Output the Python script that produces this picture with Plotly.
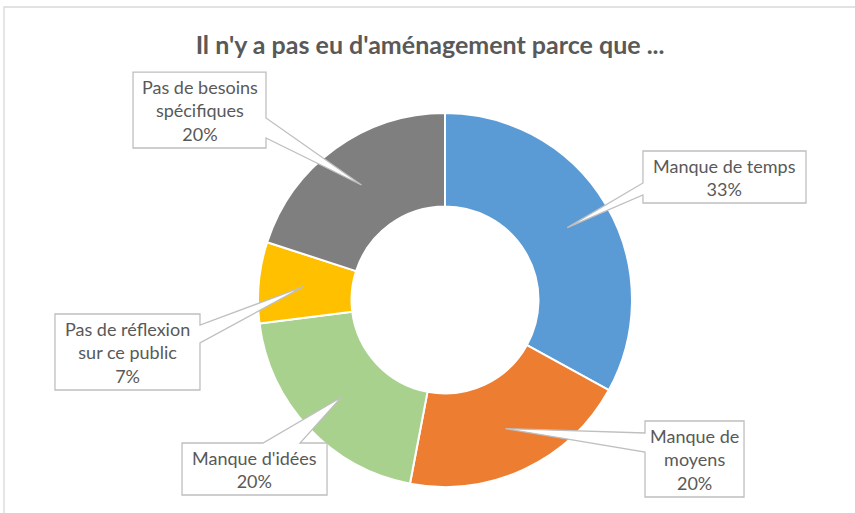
import math
import plotly.graph_objects as go

labels = ["Manque de temps", "Manque de moyens", "Manque d'idées",
          "Pas de réflexion sur ce public", "Pas de besoins spécifiques"]
label_lines = ["Manque de temps", "Manque de<br>moyens", "Manque d'idées",
               "Pas de réflexion<br>sur ce public", "Pas de besoins<br>spécifiques"]
values = [33, 20, 20, 7, 20]
colors = ["#5B9BD5", "#ED7D31", "#A9D18E", "#FFC000", "#7F7F7F"]

W, H = 855, 513
cx, cy, R = 445, 300, 187


def px(x, y):
    return x / W, 1 - y / H


# callout boxes in pixels: x0, y0, x1, y1, side the pointer leaves from, pointer base
callouts = [
    (643, 151, 806, 203, "left", (183, 195)),
    (645, 421, 744, 497, "left", (433, 452)),
    (182, 443, 327, 495, "top", (263, 300)),
    (55, 314, 200, 390, "right", (325, 343)),
    (133, 72, 266, 148, "right", (118, 138)),
]

fig = go.Figure()
fig.add_trace(go.Pie(
    labels=labels, values=values, hole=0.5, sort=False,
    direction="clockwise", rotation=0, textinfo="none",
    marker=dict(colors=colors, line=dict(color="white", width=2)),
    domain=dict(x=[(cx - R) / W, (cx + R) / W], y=[1 - (cy + R) / H, 1 - (cy - R) / H]),
    showlegend=False,
))

total = sum(values)
cum = 0
shapes = [dict(type="rect", xref="paper", yref="paper", x0=4 / W, y0=1 - 7 / H, x1=1.02, y1=-0.02,
               line=dict(color="#D9D9D9", width=1.3))]
annotations = []
for lab, v, (x0, y0, x1, y1, side, (b0, b1)) in zip(label_lines, values, callouts):
    mid = (cum + v / 2) / total * 2 * math.pi
    cum += v
    tx = cx + 0.76 * R * math.sin(mid)
    ty = cy - 0.76 * R * math.cos(mid)
    if side == "left":
        pts = [(x0, y0), (x1, y0), (x1, y1), (x0, y1), (x0, b1), (tx, ty), (x0, b0)]
    elif side == "right":
        pts = [(x0, y0), (x1, y0), (x1, b0), (tx, ty), (x1, b1), (x1, y1), (x0, y1)]
    else:
        pts = [(x0, y0), (b0, y0), (tx, ty), (b1, y0), (x1, y0), (x1, y1), (x0, y1)]
    path = "M " + " L ".join("%.4f,%.4f" % px(*p) for p in pts) + " Z"
    shapes.append(dict(type="path", xref="paper", yref="paper", path=path,
                       fillcolor="white", line=dict(color="#BFBFBF", width=1.3), layer="above"))
    ax, ay = px((x0 + x1) / 2, (y0 + y1) / 2)
    annotations.append(dict(x=ax, y=ay, xref="paper", yref="paper", showarrow=False,
                            xanchor="center", yanchor="middle",
                            text=f"{lab}<br>{round(v / total * 100)}%",
                            font=dict(family="Lato", size=18, color="#595959")))

fig.update_layout(
    width=W, height=H, margin=dict(l=0, r=0, t=0, b=0),
    paper_bgcolor="white", plot_bgcolor="white",
    title=dict(text="<b>Il n'y a pas eu d'aménagement parce que ...</b>",
               x=0.503, xanchor="center", y=1 - 45 / H, yanchor="middle",
               font=dict(family="Lato", size=25, color="#595959")),
    shapes=shapes, annotations=annotations,
)
fig.write_html("out.html", config={"displayModeBar": False},
               post_script="document.body.style.margin='0';")
